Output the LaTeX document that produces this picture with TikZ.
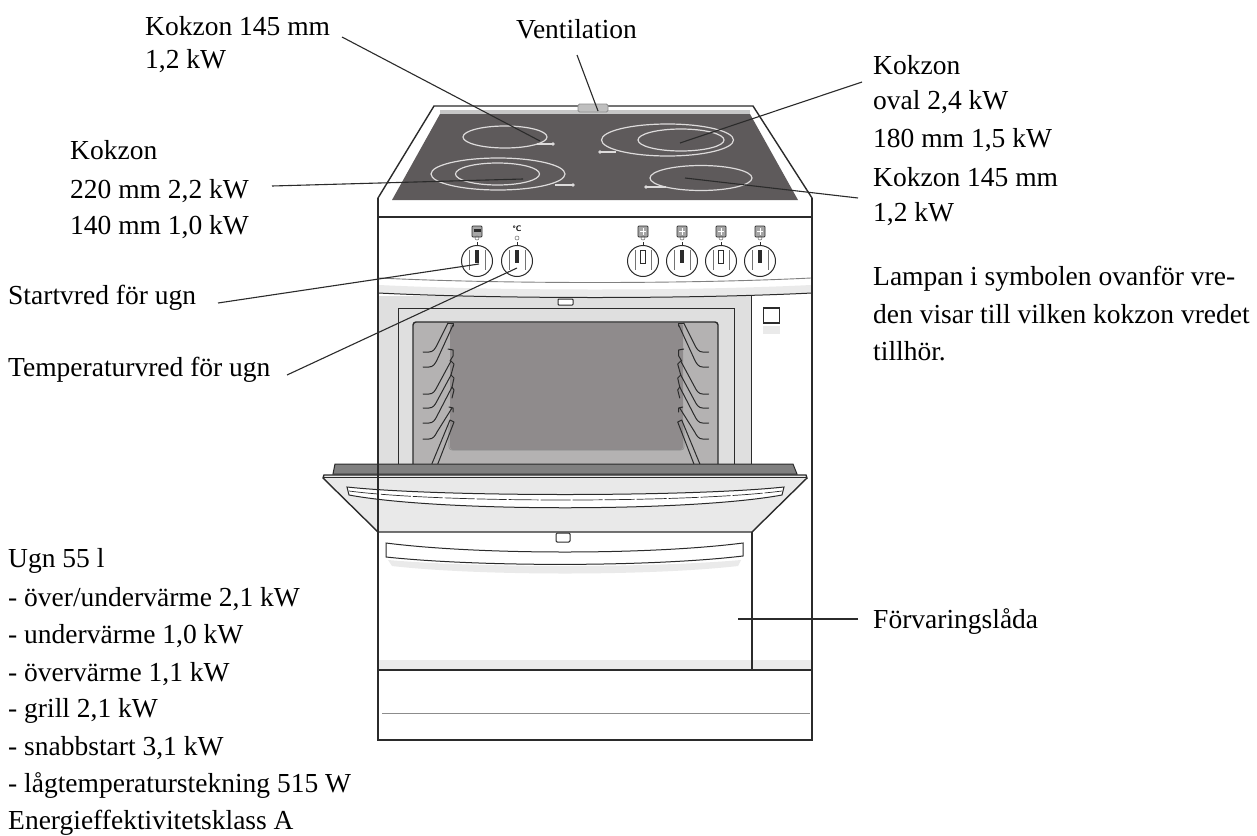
\documentclass[tikz,border=0pt]{standalone}
\usepackage{fontspec}
\setmainfont{Liberation Serif}
\definecolor{ink}{HTML}{2B2B2B}
\definecolor{glass}{HTML}{5E5A5B}
\definecolor{ring}{HTML}{DDDBDB}
\definecolor{frameg}{HTML}{DFDFDF}
\definecolor{cav}{HTML}{B4B2B2}
\definecolor{backw}{HTML}{8F8B8C}
\definecolor{doorg}{HTML}{E9E9E9}
\definecolor{softg}{HTML}{EAEAEA}
\tikzset{
  lab/.style={anchor=base west,inner sep=0pt,font=\fontsize{27.5}{30}\selectfont,text=black},
  leader/.style={draw=ink,line width=1.1pt},
  body/.style={draw=ink,line width=1.4pt},
  thin body/.style={draw=ink,line width=1pt},
  burner/.style={draw=ring,line width=1.2pt},
  rail/.style={draw=ink,line width=1pt,line cap=round,line join=round},
  knobring/.style={draw=ink,line width=1pt,fill=white},
  icon/.style={draw=ink,line width=.7pt,fill=black!35,rounded corners=.8pt}
}
\newcommand{\knob}[3]{%
  \begin{scope}[shift={(#1,261)}]
    \draw[knobring] (0,0) circle (15.5);
    \draw[draw=black!55,line width=.8pt] (-8,-11) -- (-8,9) (8,-11) -- (8,9);
    \draw[draw=ink,line width=.7pt] (0,-15.5) -- (0,-19);
    \ifnum#2=1
      \draw[draw=ink,line width=.8pt,fill=white] (-2.2,-11) rectangle (2.2,2);
    \else
      \fill[ink] (-1.6,-11) rectangle (1.6,2);
    \fi
    \ifnum#3<2
    \draw[icon] (-5,-35) rectangle (5,-24);
    \fi
    \ifnum#3=1
      \draw[draw=white,line width=1pt] (-3,-29.5) -- (3,-29.5) (0,-33) -- (0,-26);
    \fi
    \ifnum#3=0
      \fill[ink] (-3.5,-32) rectangle (3.5,-29);
    \fi
  \end{scope}}
\newcommand{\rack}{%
  \foreach \ya/\xb/\yb in {352/448/323,367/453/325,394/451/361,408/451/375,423/452/387,439/452/408}{
    \draw[rail] (423,\ya) -- (429,\ya) .. controls (433,\ya) and (435,\ya-3) .. (437,\ya-7) -- (\xb,\yb);
  }
  \draw[rail] (448,323) -- (453,323) -- (453,326);
  \draw[rail] (448,349) -- (453,350) -- (453,356) -- (450,361);
  \draw[rail] (451,361) -- (454,364) -- (451,375);
  \draw[rail] (451,375) -- (454,378) -- (452,387);
  \draw[rail] (452,387) -- (454,390) -- (452,398);
  \draw[rail] (449,407) -- (453,408) -- (453,412);
  \draw[rail] (431,466) -- (450,420) -- (454,422) -- (437,466);
}
\begin{document}
\begin{tikzpicture}[x=1pt,y=-1pt]
\useasboundingbox (0,0) rectangle (1257,835);
\fill[white] (0,0) rectangle (1257,835);

% body
\draw[body,fill=white] (434,106) -- (753,106) -- (812,198) -- (812,740) -- (378,740) -- (378,198) -- cycle;
\fill[glass] (440,114) -- (750,114) -- (798,200) -- (392,200) -- cycle;
\fill[black!22] (440,110) -- (750,110) -- (750,114) -- (440,114) -- cycle;
\draw[draw=black!45,line width=.8pt,fill=black!25,rounded corners=1.5pt] (578,104) rectangle (608,112);
\draw[body] (378,217) -- (812,217);

% burners
\draw[burner] (505,137) ellipse (42 and 11);
\draw[burner] (537,144) -- (553,144);
\fill[ring] (553,144) circle (1.8);
\draw[burner] (667.5,140) ellipse (66 and 16);
\draw[burner] (681,140) ellipse (43 and 11);
\draw[burner] (600,152) -- (616,152);
\fill[ring] (600,152) circle (1.8);
\draw[burner] (498,174) ellipse (67 and 16);
\draw[burner] (497.5,174) ellipse (42 and 11);
\draw[burner] (555,185) -- (573,185);
\fill[ring] (573,185) circle (1.8);
\draw[burner] (701,178) ellipse (51 and 12.5);
\draw[burner] (646,187) -- (666,187);
\fill[ring] (646,187) circle (1.8);

% control panel
\knob{477}{0}{0}
\knob{517}{0}{2}
\knob{643}{1}{1}
\knob{682}{0}{1}
\knob{721}{1}{1}
\knob{760}{0}{1}
\foreach \kx in {477,517,643,682,721,760}{\draw[draw=black!60,line width=.5pt] (\kx,238) circle (2);}
\node[inner sep=0pt,font=\fontsize{8}{9}\bfseries\sffamily] (celsius) at (517,229) {°C};
\draw[draw=black!50,line width=.9pt] (379,278) .. controls (500,284) and (690,284) .. (811,278);

% oven opening
\fill[frameg] (379,296) -- (751,296) -- (751,466) -- (379,466) -- cycle;
\fill[softg] (379,285) .. controls (500,291) and (690,291) .. (811,285) -- (811,293) .. controls (690,299) and (500,299) .. (379,293) -- cycle;
\draw[thin body] (378,293) .. controls (500,299) and (690,299) .. (812,293);
\draw[thin body] (751,296) -- (751,466);
\draw[thin body] (398,466) -- (398,308) -- (734,308) -- (734,466);
\draw[thin body,fill=white,rounded corners=.8pt] (558,299) rectangle (573,305);
\draw[draw=ink,line width=1.4pt,fill=cav,rounded corners=3pt] (413,466) -- (413,322) -- (718,322) -- (718,466);
\fill[cav] (414.5,440) rectangle (716.5,466);
\fill[backw,rounded corners=3pt] (450,323) -- (683,323) -- (683,450) -- (450,450) -- cycle;
\draw[draw=black!45,line width=.6pt,rounded corners=3pt] (449,425) -- (449,450) -- (684,450) -- (684,425);
\rack
\begin{scope}[shift={(1131.7,0)},xscale=-1]
\rack
\end{scope}

% square button
\fill[softg] (763,326) rectangle (780,334);
\draw[body,fill=white] (763.5,308) rectangle (779.5,323);

% oven door
\draw[thin body,fill=black!50] (335,464) -- (793,464) -- (797,474) -- (333,474) -- cycle;
\draw[body,fill=doorg] (324,475) -- (806,475) -- (807,478) -- (752,532) -- (378,532) -- (323,478) -- cycle;
\draw[body] (324,477.5) -- (806,477.5);
\draw[thin body,fill=white] (347,487) .. controls (440,497) and (690,497) .. (784,487) -- (782,495) .. controls (690,512) and (440,512) .. (349,495) -- cycle;
\draw[draw=ink,line width=.7pt,dash pattern=on 30pt off 2pt] (349,491) .. controls (440,503) and (690,503) .. (782,491);

% drawer
\fill[softg] (388,560) .. controls (480,568) and (650,568) .. (741,560) -- (738,566) .. controls (650,576) and (480,576) .. (392,566) -- cycle;
\draw[thin body,fill=white] (386,543) .. controls (480,555) and (650,555) .. (743,543) -- (743,556) .. controls (650,567) and (480,567) .. (386,557) -- cycle;
\draw[thin body,fill=white,rounded corners=1.2pt] (556,533) rectangle (570,542);
\fill[softg] (379,660) rectangle (811,669);
\draw[body] (752,532) -- (752,670);
\draw[draw=ink,line width=1.7pt] (378,670) -- (812,670);
\draw[draw=black!45,line width=1pt] (382,713) -- (810,713);
\draw[body] (378,198) -- (378,740) -- (812,740) -- (812,198);

% labels
\node[lab] (k1a) at (145,35) {Kokzon 145 mm};
\node[lab] (k1b) at (145,68) {1,2 kW};
\node[lab] (vent) at (516,38) {Ventilation};
\node[lab] (k2a) at (70,159) {Kokzon};
\node[lab] (k2b) at (70,198) {220 mm 2,2 kW};
\node[lab] (k2c) at (70,234) {140 mm 1,0 kW};
\node[lab] (k3a) at (873,74) {Kokzon};
\node[lab] (k3b) at (873,109) {oval 2,4 kW};
\node[lab] (k3c) at (873,147) {180 mm 1,5 kW};
\node[lab] (k4a) at (873,186) {Kokzon 145 mm};
\node[lab] (k4b) at (873,221) {1,2 kW};
\node[lab] (lamp1) at (873,285) {Lampan i symbolen ovanför vre-};
\node[lab] (lamp2) at (873,323) {den visar till vilken kokzon vredet};
\node[lab] (lamp3) at (873,360) {tillhör.};
\node[lab] (start) at (8,304) {Startvred för ugn};
\node[lab] (temp) at (8,376) {Temperaturvred för ugn};
\node[lab] (u1) at (8,567) {Ugn 55 l};
\node[lab] (u2) at (8,606) {- över/undervärme 2,1 kW};
\node[lab] (u3) at (8,643) {- undervärme 1,0 kW};
\node[lab] (u4) at (8,681) {- övervärme 1,1 kW};
\node[lab] (u5) at (8,717) {- grill 2,1 kW};
\node[lab] (u6) at (8,755) {- snabbstart 3,1 kW};
\node[lab] (u7) at (8,792) {- lågtemperaturstekning 515 W};
\node[lab] (u8) at (8,829) {Energieffektivitetsklass A};
\node[lab] (forv) at (873,628) {Förvaringslåda};

% connector ends
\coordinate (p1a) at (342,37);  \coordinate (p1b) at (540,141);
\coordinate (p2a) at (577,55);  \coordinate (p2b) at (598,111);
\coordinate (p3a) at (862,82);  \coordinate (p3b) at (680,143);
\coordinate (p4a) at (858,198); \coordinate (p4b) at (685,178);
\coordinate (p5a) at (272,186); \coordinate (p5b) at (523,179);
\coordinate (p6a) at (218,303); \coordinate (p6b) at (479,264);
\coordinate (p7a) at (287,375); \coordinate (p7b) at (517,268);
\coordinate (p8a) at (858,619); \coordinate (p8b) at (738,619);
\foreach \n in {1,...,8}{\draw[leader] (p\n a) -- (p\n b);}
\end{tikzpicture}
\end{document}
